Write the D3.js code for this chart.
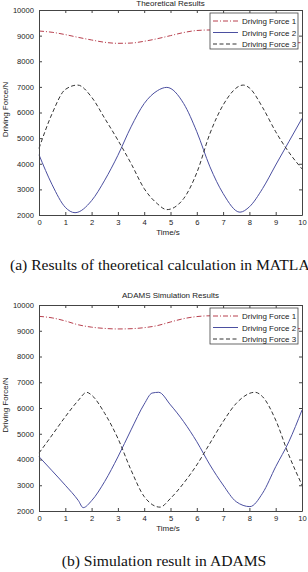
<html>
<head>
<meta charset="utf-8">
<title>driving force</title>
<script src="https://cdn.jsdelivr.net/npm/d3@7"></script>
<style>
  body { margin: 0; background: #fff; }
  .tick text { font-family: "Liberation Sans", Arial, sans-serif; font-size: 7.6px; fill: #222; }
  .lbl { font-family: "Liberation Sans", Arial, sans-serif; font-size: 8px; fill: #222; }
  .cap { font-family: "Liberation Serif", "Times New Roman", serif; font-size: 15.6px; fill: #111; }
</style>
</head>
<body>
<script>
// series names and tick values
var seriesNames = ['Driving Force 1', 'Driving Force 2', 'Driving Force 3'];
var xTicks = [0,1,2,3,4,5,6,7,8,9,10];
var yTicks = [2000,3000,4000,5000,6000,7000,8000,9000,10000];

// (a) theoretical results, MATLAB
var theoF1T = [0,0.5,1,1.5,2,2.5,3,3.5,4,4.5,5,5.5,6,6.5,7,7.5,8,8.5,9,9.5,10];
var theoF1V = [9180,9130,9040,8930,8830,8740,8700,8710,8780,8880,9000,9120,9200,9220,9180,9090,8970,8850,8760,8710,8730];
var theoF2T = [0,0.5,1,1.37,2,2.5,3,3.5,4,4.5,4.86,5.5,6,6.5,7,7.64,8,8.5,9,9.5,10];
var theoF2V = [4350,3180,2300,2090,2560,3360,4330,5440,6350,6850,6980,6350,5250,3880,2840,2110,2320,3030,3950,4860,5770];
var theoF3T = [0,0.5,1,1.47,2,2.5,3,3.5,4,4.5,4.86,5.5,6,6.5,7,7.77,8,8.5,9,9.5,10];
var theoF3V = [4600,5960,6900,7070,6600,5770,4920,4010,3030,2440,2210,2640,3650,5180,6290,7070,6960,6200,5250,4450,3800];

// (b) ADAMS simulation results
var simF1T = [0,0.5,1,1.5,2,2.5,3,3.5,4,4.5,5,5.5,6,6.5,7,7.5,8,8.5,9,9.5,10];
var simF1V = [9560,9500,9380,9230,9140,9090,9070,9080,9120,9200,9340,9470,9550,9580,9560,9480,9360,9240,9150,9090,9080];
var simF2T = [0,0.5,1,1.5,1.68,2,2.5,3,3.5,4,4.3,4.55,5,5.5,6,6.5,7,7.5,8.02,8.5,9,9.5,10];
var simF2V = [4110,3560,3000,2400,2130,2400,3150,4100,5150,6150,6580,6610,6120,5470,4690,3790,3010,2360,2170,2690,3720,4690,5920];
var simF3T = [0,0.5,1,1.5,1.81,2,2.5,3,3.5,4,4.6,5,5.5,6,6.5,7,7.5,8.21,8.5,9,9.5,10];
var simF3V = [4250,4950,5660,6300,6610,6500,5790,4820,3590,2560,2150,2490,3080,3790,4630,5470,6180,6610,6440,5530,4170,3010];

var colors = ['#b8404e', '#4b4fa0', '#333333'];
var dashes = ['5,2,1,2', null, '4,2.5'];

function zip(t, v) { return t.map(function(d, i) { return [d, v[i]]; }); }

var panels = [
  { title: 'Theoretical Results', top: 10, bottom: 215, titleY: 6, caption: '(a) Results of theoretical calculation in MATLAB', capX: 10, capY: 270, capAnchor: 'start',
    series: [zip(theoF1T, theoF1V), zip(theoF2T, theoF2V), zip(theoF3T, theoF3V)] },
  { title: 'ADAMS Simulation Results', top: 305, bottom: 511, titleY: 298, caption: '(b) Simulation result in ADAMS', capX: 164, capY: 566, capAnchor: 'middle',
    series: [zip(simF1T, simF1V), zip(simF2T, simF2V), zip(simF3T, simF3V)] }
];

var svg = d3.select('body').append('svg')
  .attr('width', 308).attr('height', 572);

var left = 39, right = 302;

panels.forEach(function(p) {
  var x = d3.scaleLinear().domain([0, 10]).range([left, right]);
  var y = d3.scaleLinear().domain([2000, 10000]).range([p.bottom, p.top]);
  var g = svg.append('g');

  // curves
  var line = d3.line()
    .x(function(d) { return x(d[0]); })
    .y(function(d) { return y(d[1]); })
    .curve(d3.curveMonotoneX);
  p.series.forEach(function(s, i) {
    g.append('path')
      .attr('d', line(s))
      .attr('fill', 'none')
      .attr('stroke', colors[i])
      .attr('stroke-width', 1)
      .attr('stroke-dasharray', dashes[i]);
  });

  // axes, MATLAB box with inward ticks
  var ax = [
    d3.axisBottom(x).tickValues(xTicks).tickSizeInner(-3).tickSizeOuter(0).tickPadding(5).tickFormat(d3.format('d')),
    d3.axisTop(x).tickValues(xTicks).tickSizeInner(-3).tickSizeOuter(0).tickFormat(''),
    d3.axisLeft(y).tickValues(yTicks).tickSizeInner(-3).tickSizeOuter(0).tickPadding(5).tickFormat(d3.format('d')),
    d3.axisRight(y).tickValues(yTicks).tickSizeInner(-3).tickSizeOuter(0).tickFormat('')
  ];
  var pos = ['translate(0,' + p.bottom + ')', 'translate(0,' + p.top + ')', 'translate(' + left + ',0)', 'translate(' + right + ',0)'];
  ax.forEach(function(a, i) {
    var ga = g.append('g').attr('transform', pos[i]).call(a);
    ga.selectAll('path, line').attr('stroke', '#444');
  });

  // legend
  var lg = g.append('g').attr('transform', 'translate(210,' + (p.top + 3) + ')');
  lg.append('rect').attr('width', 88).attr('height', 36)
    .attr('fill', '#fff').attr('stroke', '#444').attr('stroke-width', 0.8);
  seriesNames.forEach(function(n, i) {
    var yy = 8 + i * 11.5;
    lg.append('line').attr('x1', 3).attr('x2', 28).attr('y1', yy).attr('y2', yy)
      .attr('stroke', colors[i]).attr('stroke-dasharray', dashes[i]);
    lg.append('text').attr('class', 'lbl').attr('x', 32).attr('y', yy + 3).text(n);
  });

  // labels
  g.append('text').attr('class', 'lbl').attr('x', (left + right) / 2).attr('y', p.titleY)
    .attr('text-anchor', 'middle').text(p.title);
  g.append('text').attr('class', 'lbl').attr('x', 168).attr('y', p.bottom + 20)
    .attr('text-anchor', 'middle').text('Time/s');
  g.append('text').attr('class', 'lbl')
    .attr('transform', 'translate(8,' + ((p.top + p.bottom) / 2 - 3) + ') rotate(-90)')
    .attr('text-anchor', 'middle').text('Driving Force/N');
  g.append('text').attr('class', 'cap').attr('x', p.capX).attr('y', p.capY)
    .attr('text-anchor', p.capAnchor).text(p.caption);
});
</script>
</body>
</html>
